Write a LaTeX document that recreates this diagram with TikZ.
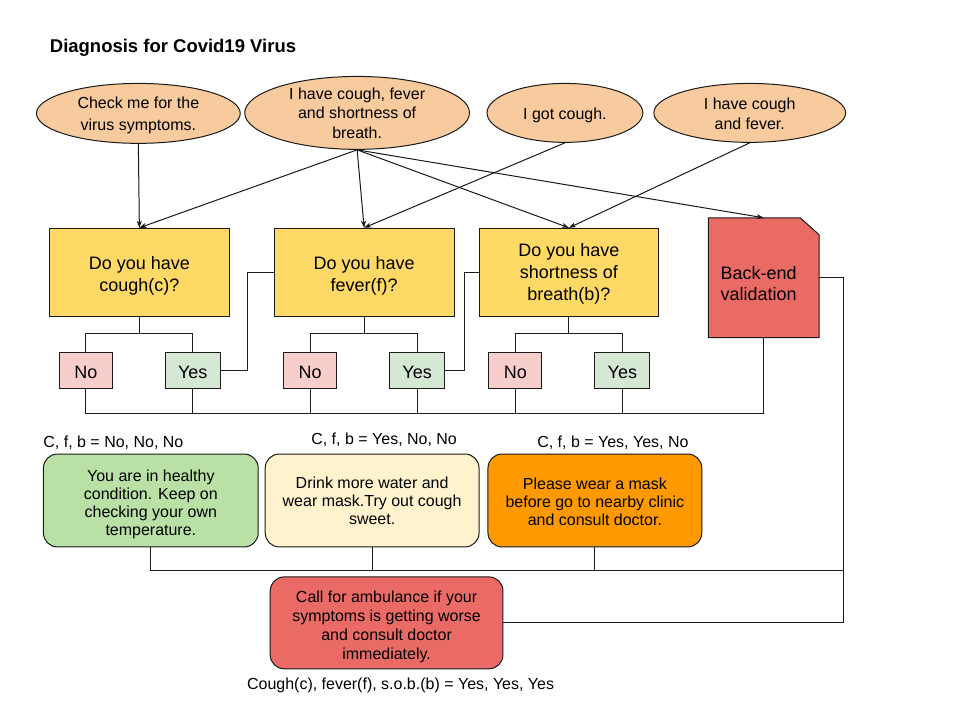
\documentclass[tikz,border=0pt]{standalone}
\usepackage{fontspec}
\setmainfont{Liberation Sans}
\usetikzlibrary{shapes.geometric,arrows.meta,calc}
\definecolor{ellfill}{HTML}{F8CB9E}
\definecolor{qfill}{HTML}{FFD966}
\definecolor{nofill}{HTML}{F8CECC}
\definecolor{yesfill}{HTML}{D5E8D4}
\definecolor{redfill}{HTML}{EA6B66}
\definecolor{greenfill}{HTML}{B9E0A5}
\definecolor{lyfill}{HTML}{FFF2CC}
\definecolor{orfill}{HTML}{FF9900}
\definecolor{linec}{HTML}{1A1A1A}
\newcommand{\txtup}[1]{\rule{0pt}{#1}}
\tikzset{
  every path/.style={line width=1pt, draw=linec},
  ell/.style={ellipse, draw=linec, fill=ellfill, inner sep=0pt, align=center,
    font=\fontsize{16}{20}\selectfont},
  qbox/.style={rectangle, draw=linec, fill=qfill, minimum width=180pt, minimum height=88pt,
    align=center, font=\fontsize{18}{22}\selectfont},
  nobox/.style={rectangle, draw=linec, fill=nofill, minimum width=53pt, minimum height=36pt,
    inner sep=0pt, font=\fontsize{18}{22}\selectfont},
  yesbox/.style={nobox, fill=yesfill, minimum width=55pt},
  outbox/.style={rectangle, rounded corners=14pt, draw=linec, minimum width=214pt, minimum height=93pt,
    align=center, inner sep=0pt, font=\fontsize{16}{18}\selectfont},
  lbl/.style={inner sep=0pt, font=\fontsize{16}{19}\selectfont},
  arr/.style={-{Stealth[length=7pt,width=5pt,inset=2pt]}},
  conn/.style={line width=1pt, draw=linec},
}
\begin{document}
\begin{tikzpicture}[x=1pt,y=-1pt]
\useasboundingbox (0,0) rectangle (960,720);
\fill[white] (0,0) rectangle (960,720);

% title
\node[anchor=base west, inner sep=0pt, font=\fontsize{18.5}{22}\selectfont\bfseries] (title) at (49,52) {Diagnosis for Covid19 Virus};

% ellipses
\node[ell, minimum width=204pt, minimum height=60pt] (e1) at (138,113) {\txtup{15.7pt}Check me for the\\[2pt]virus symptoms.};
\node[ell, minimum width=225pt, minimum height=73pt, inner ysep=-3pt, font=\fontsize{16}{19.5}\selectfont] (e2) at (357,112.5) {I have cough, fever\\and shortness of\\breath.};
\node[ell, minimum width=156pt, minimum height=59pt] (e3) at (565,112.5) {\txtup{15.7pt}I got cough.};
\node[ell, minimum width=192pt, minimum height=59pt] (e4) at (750,112.5) {\txtup{13.7pt}I have cough\\and fever.};

% question boxes
\node[qbox] (q1) at (139,272) {\txtup{20pt}Do you have\\cough(c)?};
\node[qbox] (q2) at (364,272) {\txtup{20pt}Do you have\\fever(f)?};
\node[qbox] (q3) at (569,272) {\txtup{17pt}Do you have\\shortness of\\breath(b)?};

% back-end validation
\node[rectangle, draw=none, minimum width=110pt, minimum height=119pt, inner sep=0pt] (be) at (764,277.5) {};
\filldraw[fill=redfill, draw=linec] (be.north west) -- ($(be.north east)+(-19,0)$) -- ($(be.north east)+(0,17)$) -- (be.south east) -- (be.south west) -- cycle;
\node[inner sep=0pt, align=center, font=\fontsize{18}{20.5}\selectfont] (bet) at ($(be.center)+(-5,6)$) {Back-end\\validation};

% yes / no boxes
\node[nobox] (n1) at (85.5,370) {\txtup{16pt}No};
\node[yesbox] (y1) at (192.5,370) {\txtup{16pt}Yes};
\node[nobox] (n2) at (310,370) {\txtup{16pt}No};
\node[yesbox] (y2) at (417,370) {\txtup{16pt}Yes};
\node[nobox] (n3) at (515.5,370) {\txtup{16pt}No};
\node[yesbox] (y3) at (622.5,370) {\txtup{16pt}Yes};

% outcome boxes
\node[outbox, fill=greenfill, minimum width=215pt] (og) at (150.5,500.5) {\txtup{18.5pt}You are in healthy\\condition. Keep on\\checking your own\\temperature.};
\node[outbox, fill=lyfill] (oy) at (372,500.5) {Drink more water and\\wear mask.Try out cough\\sweet.};
\node[outbox, fill=orfill] (oo) at (595,500.5) {\txtup{13.5pt}Please wear a mask\\before go to nearby clinic\\and consult doctor.};
\node[outbox, fill=redfill, minimum width=233pt, minimum height=92pt, font=\fontsize{16}{19.3}\selectfont] (or) at (386.5,623) {\txtup{19.5pt}Call for ambulance if your\\symptoms is getting worse\\and consult doctor\\immediately.};

% labels
\node[lbl] (l1) at (113,443) {C, f, b = No, No, No};
\node[lbl] (l2) at (384,439.5) {C, f, b = Yes, No, No};
\node[lbl] (l3) at (613,443) {C, f, b = Yes, Yes, No};
\node[lbl] (l4) at (400.5,685.5) {Cough(c), fever(f), s.o.b.(b) = Yes, Yes, Yes};

% arrows from ellipses
\draw[arr] (e1.south) -- (q1.north);
\draw[arr] (e2.south) -- (q1.north);
\draw[arr] (e2.south) -- (q2.north);
\draw[arr] (e2.south) -- (q3.north);
\draw[arr] (e2.south) -- (be.north);
\draw[arr] (e3.south) -- (q2.north);
\draw[arr] (e4.south) -- (q3.north);

% question -> yes/no trees
\coordinate (t1) at ($(q1.south)+(0,17)$);
\coordinate (t2) at ($(q2.south)+(0,17)$);
\coordinate (t3) at ($(q3.south)+(0,17)$);
\draw[conn] (q1.south) -- (t1);
\draw[conn] (n1.north) |- (t1) -| (y1.north);
\draw[conn] (q2.south) -- (t2);
\draw[conn] (n2.north) |- (t2) -| (y2.north);
\draw[conn] (q3.south) -- (t3);
\draw[conn] (n3.north) |- (t3) -| (y3.north);

% yes -> next question
\draw[conn] (y1.east) -- ++(27,0) |- (q2.west);
\draw[conn] (y2.east) -- ++(19,0) |- (q3.west);

% bottom bus
\coordinate (bus) at (0,413);
\draw[conn] (n1.south) |- (be.south |- bus) -- (be.south);
\draw[conn] (y1.south) -- (y1.south |- bus);
\draw[conn] (n2.south) -- (n2.south |- bus);
\draw[conn] (y2.south) -- (y2.south |- bus);
\draw[conn] (n3.south) -- (n3.south |- bus);
\draw[conn] (y3.south) -- (y3.south |- bus);

% outcome bus and back-end link
\coordinate (rv) at (844,571);
\draw[conn] (be.east) -| (rv) |- (or.east);
\draw[conn] (og.south) |- (rv);
\draw[conn] (oy.south) -- (oy.south |- rv);
\draw[conn] (oo.south) -- (oo.south |- rv);
\end{tikzpicture}
\end{document}
